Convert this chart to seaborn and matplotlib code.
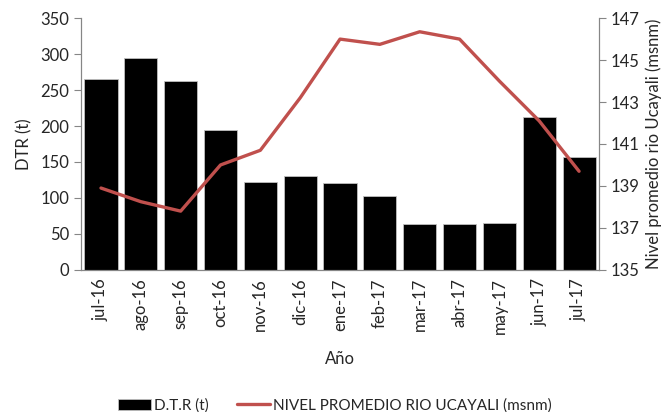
### DTR vs nivel rio Ucayali
import matplotlib
matplotlib.use("Agg")
import matplotlib.pyplot as plt
import numpy as np
import pandas as pd
import seaborn as sns

## data
meses = ["jul-16", "ago-16", "sep-16", "oct-16", "nov-16", "dic-16", "ene-17",
         "feb-17", "mar-17", "abr-17", "may-17", "jun-17", "jul-17"]
dtr = [265, 295, 262, 194, 122, 131, 121, 103, 64, 64, 65, 213, 157]
nivel = [138.9, 138.25, 137.8, 140.0, 140.7, 143.2, 146.0, 145.75, 146.35, 146.0, 144.0, 142.1, 139.7]

df = pd.DataFrame({"mes": meses, "dtr": dtr, "nivel": nivel})
df["pos"] = np.arange(len(df))

sns.set_style("white")
plt.rcParams["font.family"] = ["Lato", "DejaVu Sans"]
plt.rcParams["font.size"] = 12

fig, ax = plt.subplots(figsize=(6.7, 4.12), dpi=100)
fig.subplots_adjust(left=0.121, right=0.894, top=0.956, bottom=0.345)

sns.barplot(data=df, x="mes", y="dtr", color="black", width=0.83,
            saturation=1, edgecolor="#bfbfbf", linewidth=0.6, ax=ax, label="D.T.R (t)")
ax2 = ax.twinx()
sns.lineplot(data=df, x="pos", y="nivel", color="#c0504d", linewidth=2.4,
             ax=ax2, label="NIVEL PROMEDIO RIO UCAYALI (msnm)")

# left axis
ax.set_ylim(0, 350)
ax.set_yticks(np.arange(0, 351, 50))
ax.set_xlim(-0.5, len(df) - 0.5)
ax.set_ylabel("DTR (t)", fontsize=12, labelpad=6)
ax.set_xlabel("Año", fontsize=12, labelpad=12)
ax.set_xticks(df["pos"])
ax.set_xticklabels(df["mes"], rotation=90)
ax.set_xticks(np.arange(-0.5, len(df), 1), minor=True)
ax.tick_params(axis="x", which="major", length=0, pad=6)
ax.tick_params(axis="x", which="minor", length=5, color="#868686", direction="out")
ax.tick_params(axis="y", length=5, color="#868686", direction="out", left=True)

# right axis
ax2.set_ylim(135, 147)
ax2.set_yticks(np.arange(135, 148, 2))
ax2.set_xlim(-0.5, len(df) - 0.5)
ax2.set_ylabel("Nivel promedio rio Ucayali (msnm)", fontsize=12)
ax2.tick_params(axis="y", length=5, color="#868686", direction="out", right=True)

for a in (ax, ax2):
    for s in a.spines.values():
        s.set_color("#868686")
        s.set_linewidth(0.8)
    a.spines["top"].set_visible(False)

# legend at bottom
h1, l1 = ax.get_legend_handles_labels()
h2, l2 = ax2.get_legend_handles_labels()
if ax.get_legend():
    ax.get_legend().remove()
if ax2.get_legend():
    ax2.get_legend().remove()
fig.legend(h1 + h2, l1 + l2, loc="lower center", bbox_to_anchor=(0.5, -0.035),
           ncol=2, frameon=False, fontsize=11, handlelength=2.2, handleheight=0.8,
           columnspacing=1.8, handletextpad=0.2)

plt.savefig("out.png", dpi=100)
plt.close()
